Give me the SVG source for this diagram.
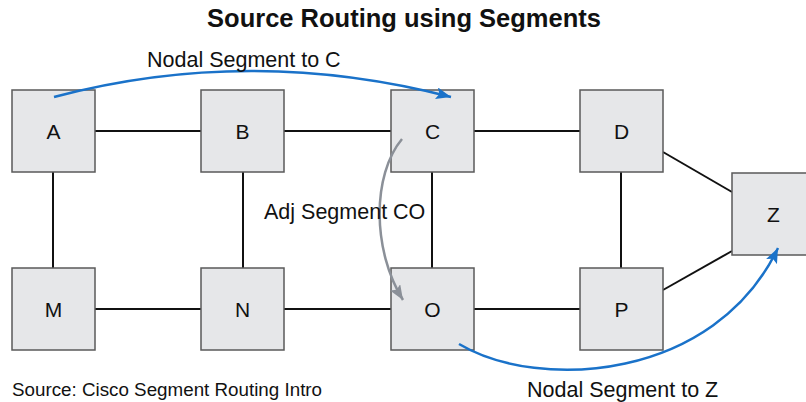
<svg xmlns="http://www.w3.org/2000/svg" width="806" height="402" viewBox="0 0 806 402">
  <style>
    .node rect { fill: #e6e7e9; stroke: #5a5a5a; stroke-width: 1.5; }
    .node text { font-family: "Liberation Sans", Arial, sans-serif; font-size: 21px; fill: #111; text-anchor: middle; }
    .link { stroke: #111; stroke-width: 2; fill: none; }
    .seg { fill: none; stroke-width: 2.5; }
    .blue { stroke: #1a72c9; }
    .gray { stroke: #8b9098; }
    .label { font-family: "Liberation Sans", Arial, sans-serif; font-size: 21.5px; fill: #111; }
    .title { font-family: "Liberation Sans", Arial, sans-serif; font-size: 25.5px; font-weight: bold; fill: #111; text-anchor: middle; }
  </style>
  <defs>
    <marker id="arrow-blue" markerUnits="userSpaceOnUse" markerWidth="16" markerHeight="12" refX="15" refY="6" orient="auto">
      <path d="M0,0 L15,6 L0,12 L3,6 Z" fill="#1a72c9"/>
    </marker>
    <marker id="arrow-gray" markerUnits="userSpaceOnUse" markerWidth="16" markerHeight="12" refX="15" refY="6" orient="auto">
      <path d="M0,0 L15,6 L0,12 L3,6 Z" fill="#8b9098"/>
    </marker>
  </defs>

  <rect width="806" height="402" fill="#ffffff"/>

  <text class="title" x="404" y="27">Source Routing using Segments</text>

  <!-- physical links -->
  <g id="links">
    <line class="link" x1="95" y1="131" x2="201" y2="131"/>
    <line class="link" x1="284" y1="131" x2="391" y2="131"/>
    <line class="link" x1="474" y1="131" x2="580" y2="131"/>
    <line class="link" x1="95" y1="309" x2="201" y2="309"/>
    <line class="link" x1="284" y1="309" x2="391" y2="309"/>
    <line class="link" x1="474" y1="309" x2="580" y2="309"/>
    <line class="link" x1="53" y1="172" x2="53" y2="268"/>
    <line class="link" x1="243" y1="172" x2="243" y2="268"/>
    <line class="link" x1="432" y1="172" x2="432" y2="268"/>
    <line class="link" x1="621" y1="172" x2="621" y2="268"/>
    <line class="link" x1="663" y1="152" x2="732" y2="192"/>
    <line class="link" x1="663" y1="290" x2="732" y2="251"/>
  </g>

  <g id="node-A" class="node"><rect x="12" y="90" width="83" height="82"/><text x="53.5" y="139">A</text></g>
  <g id="node-B" class="node"><rect x="201" y="90" width="83" height="82"/><text x="242.5" y="139">B</text></g>
  <g id="node-C" class="node"><rect x="391" y="90" width="83" height="82"/><text x="432.5" y="139">C</text></g>
  <g id="node-D" class="node"><rect x="580" y="90" width="83" height="82"/><text x="621.5" y="139">D</text></g>
  <g id="node-M" class="node"><rect x="12" y="268" width="83" height="82"/><text x="53.5" y="317">M</text></g>
  <g id="node-N" class="node"><rect x="201" y="268" width="83" height="82"/><text x="242.5" y="317">N</text></g>
  <g id="node-O" class="node"><rect x="391" y="268" width="83" height="82"/><text x="432.5" y="317">O</text></g>
  <g id="node-P" class="node"><rect x="580" y="268" width="83" height="82"/><text x="621.5" y="317">P</text></g>
  <g id="node-Z" class="node"><rect x="732" y="173" width="83" height="82"/><text x="773.5" y="222">Z</text></g>

  <!-- segment paths -->
  <g id="segments">
    <path class="seg blue" d="M54,97 Q250,45 451,97" marker-end="url(#arrow-blue)"/>
    <path class="seg gray" d="M402,139 C372,175 372,250 403,300" marker-end="url(#arrow-gray)"/>
    <path class="seg blue" d="M459,344 C540,392 715,380 778,248" marker-end="url(#arrow-blue)"/>
  </g>

  <text class="label" x="147" y="67">Nodal Segment to C</text>
  <text class="label" x="264" y="219">Adj Segment CO</text>
  <text class="label" x="527" y="397">Nodal Segment to Z</text>
  <text class="label" x="12" y="396" style="font-size:18.8px">Source: Cisco Segment Routing Intro</text>
</svg>
